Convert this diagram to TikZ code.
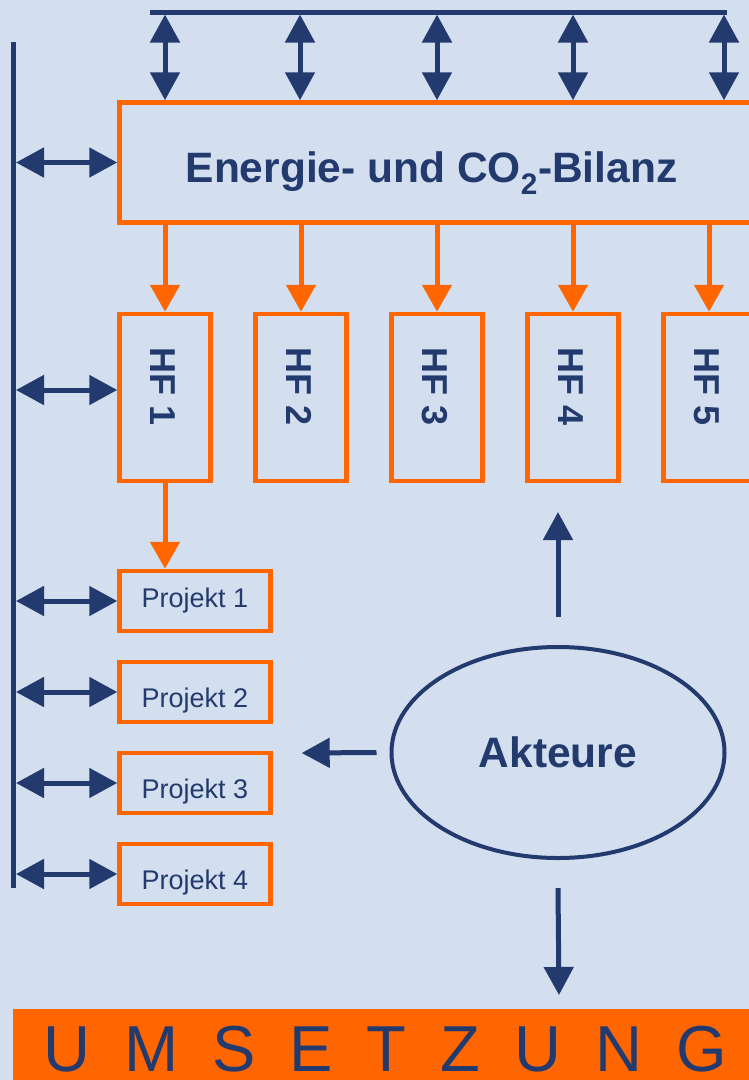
\documentclass[tikz,border=0pt]{standalone}
\usepackage{fontspec}
\setmainfont{Liberation Sans}
\usetikzlibrary{arrows.meta,shapes.geometric}
\definecolor{bluebg}{HTML}{D3DFEE}
\definecolor{navy}{HTML}{223A6D}
\definecolor{orng}{HTML}{FF6600}
\newcommand\usp{\hspace{34pt}}

\begin{document}
\begin{tikzpicture}[x=1pt,y=-1pt,
  nav/.style={navy,line width=5pt},
  org/.style={orng,line width=5pt},
  navtip/.style={-{Triangle[length=28pt,width=29pt]}},
  navboth/.style={{Triangle[length=28pt,width=29pt]}-{Triangle[length=28pt,width=29pt]}},
  orgtip/.style={-{Triangle[length=27pt,width=29pt]}},
  obox/.style={draw=orng,line width=4.5pt,inner sep=0pt},
  bigtext/.style={text=navy,font=\fontsize{42.5}{50}\selectfont\bfseries},
  hftext/.style={text=navy,rotate=-90,font=\fontsize{36}{40}\selectfont\bfseries},
  ptext/.style={text=navy,anchor=base west,font=\fontsize{27}{30}\selectfont}]
\useasboundingbox (0,0) rectangle (749,1080);
\clip (0,0) rectangle (749,1080);
\fill[bluebg] (0,0) rectangle (749,1080);
\draw[nav] (149.5,12) -- (727,12);
\draw[nav] (13.5,42) -- (13.5,888);
\coordinate (lbar) at (16,0);
\node[obox,minimum width=660,minimum height=120] (bilanz) at (449.5,162.5) {};
\node[bigtext,anchor=base] (bilanzt) at (431.5,182) {Energie- und CO\textsubscript{2}-Bilanz};
\foreach \x [count=\k] in {165,300,437,573,724}{
  \coordinate (t\k) at (\x,14.5);
  \draw[nav,navboth] (t\k) -- (t\k |- bilanz.north);
}
\draw[nav,navboth] (bilanz.west -| lbar) -- (bilanz.west);
\foreach \i [evaluate=\i as \x using 29+136*\i] in {1,...,5}{
  \node[obox,minimum width=91,minimum height=167] (hf\i) at (\x,397.5) {};
  \node[hftext] (hft\i) at (\x-2,386.5) {HF \i};
  \draw[org,orgtip] (hf\i.north |- bilanz.south) -- (hf\i.north);
}
\draw[nav,navboth] ([yshift=7.5pt]hf1.west -| lbar) -- ([yshift=7.5pt]hf1.west);
\foreach \i/\b in {1/607,2/707,3/798,4/889}{
  \node[obox,minimum width=151,minimum height=60] (p\i) at (195,510+91*\i) {};
  \node[ptext] (pt\i) at (138,\b) {Projekt \i};
  \draw[nav,navboth] (p\i.west -| lbar) -- (p\i.west);
}
\draw[org,orgtip] (hf1.south) -- (hf1.south |- p1.north);
\node[draw=navy,line width=4pt,ellipse,minimum width=333,minimum height=211,inner sep=0pt,bigtext] (akt) at (558,752.5) {Akteure};
\coordinate (akup) at (558,512);
\coordinate (akleft) at (301.7,753);
\coordinate (akdown) at (559,995);
\draw[nav,navtip] ([yshift=28pt]akt.north) -- (akup);
\draw[nav,navtip] ([xshift=-13pt]akt.west) -- (akleft);
\draw[nav,navtip] ([yshift=-28pt]akt.south) -- (akdown);
\fill[orng] (13,1009) rectangle (749,1080);
\node[anchor=base,inner sep=0pt,text=navy,font=\fontsize{65}{70}\selectfont] (umsetzung) at (385,1071) {U\usp M\usp S\usp E\usp T\usp Z\usp U\usp N\usp G};
\end{tikzpicture}
\end{document}
